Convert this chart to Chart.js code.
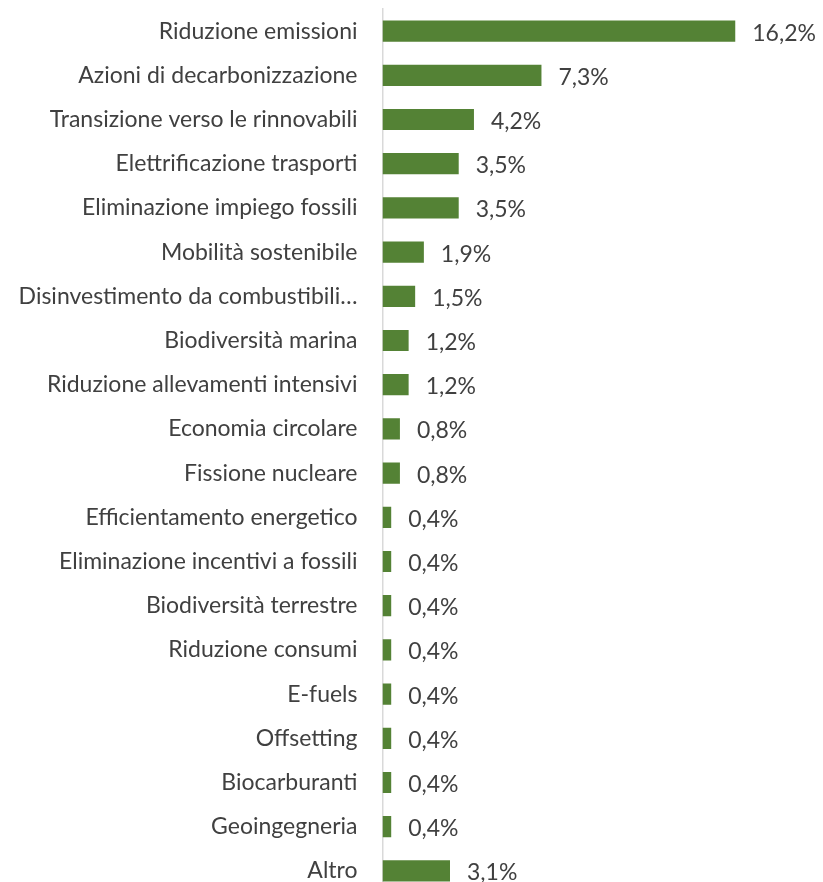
<!DOCTYPE html>
<html>
<head>
<meta charset="utf-8">
<script src="https://cdn.jsdelivr.net/npm/chart.js@4/dist/chart.umd.min.js"></script>
<style>
html,body{margin:0;padding:0;background:#fff;overflow:hidden}
canvas{display:block}
</style>
</head>
<body>
<canvas id="chart" width="823" height="894"></canvas>
<script>
// ── dati ──
const categories=['Riduzione emissioni','Azioni di decarbonizzazione','Transizione verso le rinnovabili','Elettrificazione trasporti','Eliminazione impiego fossili','Mobilità sostenibile','Disinvestimento da combustibili…','Biodiversità marina','Riduzione allevamenti intensivi','Economia circolare','Fissione nucleare','Efficientamento energetico','Eliminazione incentivi a fossili','Biodiversità terrestre','Riduzione consumi','E-fuels','Offsetting','Biocarburanti','Geoingegneria','Altro'];
const values=[16.2,7.3,4.2,3.5,3.5,1.9,1.5,1.2,1.2,0.8,0.8,0.4,0.4,0.4,0.4,0.4,0.4,0.4,0.4,3.1];
const barColor='#548235';
const textColor='#404040';
const fontFamily='Lato, "Open Sans", sans-serif';

const fmtPct=v=>v.toFixed(1).replace('.',',')+'%';

// etichette valori a destra della barra
const valueLabels={
  id:'valueLabels',
  afterDatasetsDraw(chart){
    const ctx=chart.ctx;
    const meta=chart.getDatasetMeta(0);
    ctx.save();
    ctx.font='23px '+fontFamily;
    ctx.fillStyle=textColor;
    ctx.textAlign='left';
    ctx.textBaseline='middle';
    meta.data.forEach((bar,i)=>{
      ctx.fillText(fmtPct(values[i]),bar.x+17,bar.y+2);
    });
    ctx.restore();
  }
};

new Chart(document.getElementById('chart'),{
  type:'bar',
  data:{labels:categories,datasets:[{data:values,backgroundColor:barColor,barPercentage:0.48,categoryPercentage:1}]},
  options:{
    indexAxis:'y',
    responsive:false,animation:false,
    layout:{padding:{top:9,right:5,bottom:1,left:0}},
    plugins:{legend:{display:false},tooltip:{enabled:false}},
    scales:{
      x:{display:false,min:0,max:20},
      y:{
        grid:{display:false},
        border:{display:true,color:'#d9d9d9',width:1.5},
        ticks:{color:textColor,font:{size:23,family:fontFamily},padding:17,autoSkip:false},
        afterFit(s){s.width=382.5;s.paddingTop=0;s.paddingBottom=0}
      }
    }
  },
  plugins:[valueLabels]
});
</script>
</body>
</html>
